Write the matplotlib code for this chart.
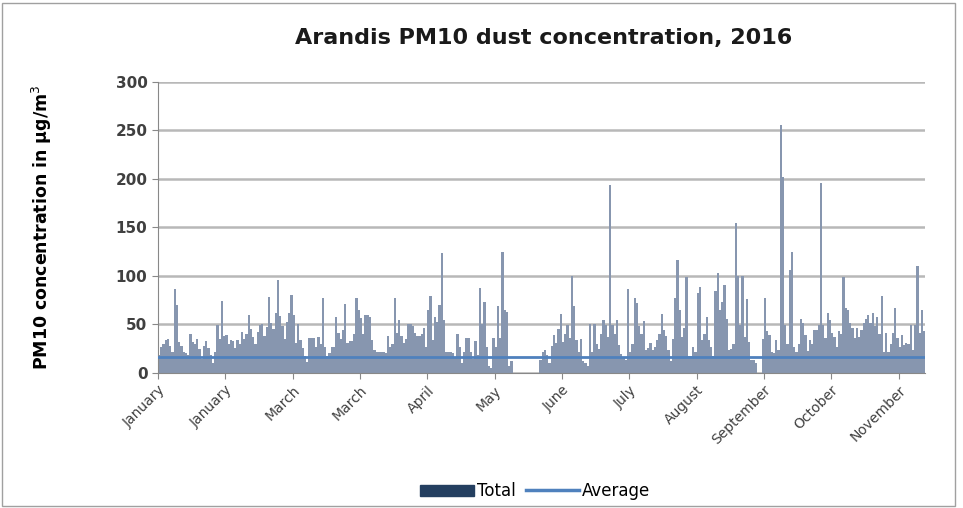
import matplotlib.pyplot as plt
import numpy as np
from matplotlib.patches import Patch
from matplotlib.lines import Line2D

# daily PM10 readings (ug/m3) in 30-day blocks; None = no data
block1 = [18, 27, 30, 34, 35, 28, 22, 86, 70, 32, 28, 22, 20, 18, 40, 32, 30, 35, 25, 14,
          28, 33, 26, 18, 10, 22, 49, 35, 74, 38]
block2 = [39, 30, 34, 33, 26, 34, 30, 42, 35, 40, 60, 45, 37, 30, 42, 49, 50, 38, 47, 78,
          51, 45, 62, 96, 59, 48, 35, 52, 62, 80]
block3 = [60, 31, 50, 34, 26, 17, 11, 36, 36, 36, 27, 37, 30, 77, 27, 17, 20, 27, 27, 58,
          41, 35, 44, 71, 31, 33, 33, 40, 77, 65]
block4 = [57, 40, 60, 60, 58, 34, 24, 22, 22, 22, 22, 20, 38, 27, 30, 77, 41, 55, 38, 31,
          35, 50, 50, 48, 41, 38, 38, 40, 46, 27]
block5 = [65, 79, 34, 58, 52, 70, 124, 55, 22, 22, 22, 20, 15, 40, 27, 10, 22, 36, 36, 22,
          14, 33, 18, 87, 50, 73, 27, 7, 5, 36]
block6 = [27, 69, 36, 125, 65, 63, 7, 12, None, None, None, None, None, None, None, None,
          None, None, None, None, 13, 22, 24, 18, 10, 28, 39, 31, 45, 61]
block7 = [32, 40, 49, 36, 100, 69, 34, 22, 35, 12, 10, 7, 50, 22, 50, 30, 25, 40, 55, 49,
          37, 194, 49, 40, 55, 29, 19, 16, 13, 86]
block8 = [22, 30, 77, 72, 48, 40, 53, 24, 26, 31, 24, 27, 34, 40, 61, 44, 38, 24, 12, 35,
          77, 116, 65, 37, 46, 99, 17, 17, 27, 22]
block9 = [82, 88, 34, 40, 58, 34, 27, 17, 84, 103, 65, 73, 91, 56, 24, 25, 30, 154, 100, 49,
          100, 37, 76, 32, 13, 13, 10, None, None, 35]
block10 = [77, 43, 39, 22, 20, 34, 24, 255, 202, 49, 30, 106, 125, 27, 22, 30, 56, 51, 39, 23,
           34, 30, 44, 44, 49, 196, 49, 36, 62, 55]
block11 = [41, 37, 27, 43, 40, 99, 67, 65, 51, 46, 36, 46, 37, 44, 51, 56, 60, 51, 62, 48,
           58, 40, 79, 22, 41, 22, 30, 41, 67, 36]
block12 = [27, 39, 29, 31, 30, 49, 24, 49, 110, 41, 65, 43]

average_value = 16
month_labels = ['January', 'January', 'March', 'March', 'April', 'May', 'June',
                'July', 'August', 'September', 'October', 'November']

pm10 = block1 + block2 + block3 + block4 + block5 + block6 + block7 + block8 + \
       block9 + block10 + block11 + block12
vals = np.array([np.nan if v is None else v for v in pm10], dtype=float)
days = np.arange(len(vals))

fig = plt.figure(figsize=(9.63, 5.08), dpi=100)
ax = fig.add_axes([0.164, 0.266, 0.797, 0.573])

ax.bar(days, vals, width=1.0, color='#8796AF', edgecolor='none', zorder=2)
ax.plot([-0.5, len(vals) - 0.5], [average_value, average_value], color='#4F81BD', lw=2, zorder=3)

ax.set_xlim(-0.5, len(vals) - 0.5)
ax.set_ylim(0, 300)
ax.set_yticks(np.arange(0, 301, 50))
ax.yaxis.grid(True, color='#B8B8B8', lw=1.8, zorder=0)
ax.set_axisbelow(True)
ax.set_xticks(np.arange(len(month_labels)) * 30 - 0.5)
ax.set_xticklabels(month_labels, rotation=45, ha='right', rotation_mode='anchor',
                   fontsize=10, color='#404040')
for lab in ax.get_yticklabels():
    lab.set_fontweight('bold')
ax.tick_params(axis='y', labelsize=11, colors='#404040', length=4, color='#888888')
ax.tick_params(axis='x', length=4, color='#888888')
for s in ['top', 'right']:
    ax.spines[s].set_visible(False)
ax.spines['left'].set_color('#888888')
ax.spines['bottom'].set_color('#888888')

ax.set_ylabel(r'PM10 concentration in µg/m$^3$', fontsize=12.5, fontweight='bold', labelpad=44)
fig.text(0.564, 0.925, 'Arandis PM10 dust concentration, 2016', ha='center', va='center',
         fontsize=16, fontweight='bold', color='#1a1a1a')

handles = [Patch(color='#243F60'), Line2D([0], [0], color='#4F81BD', lw=2.5)]
fig.legend(handles, ['Total', 'Average'], loc='center', bbox_to_anchor=(0.556, 0.033),
           ncol=2, frameon=False, fontsize=12, handlelength=3.2, handletextpad=0.2,
           columnspacing=0.6)

fig.add_artist(plt.Rectangle((0.002, 0.004), 0.99, 0.99, transform=fig.transFigure,
                             fill=False, edgecolor='#A0A0A0', lw=1))

fig.savefig('out.png', dpi=100)
